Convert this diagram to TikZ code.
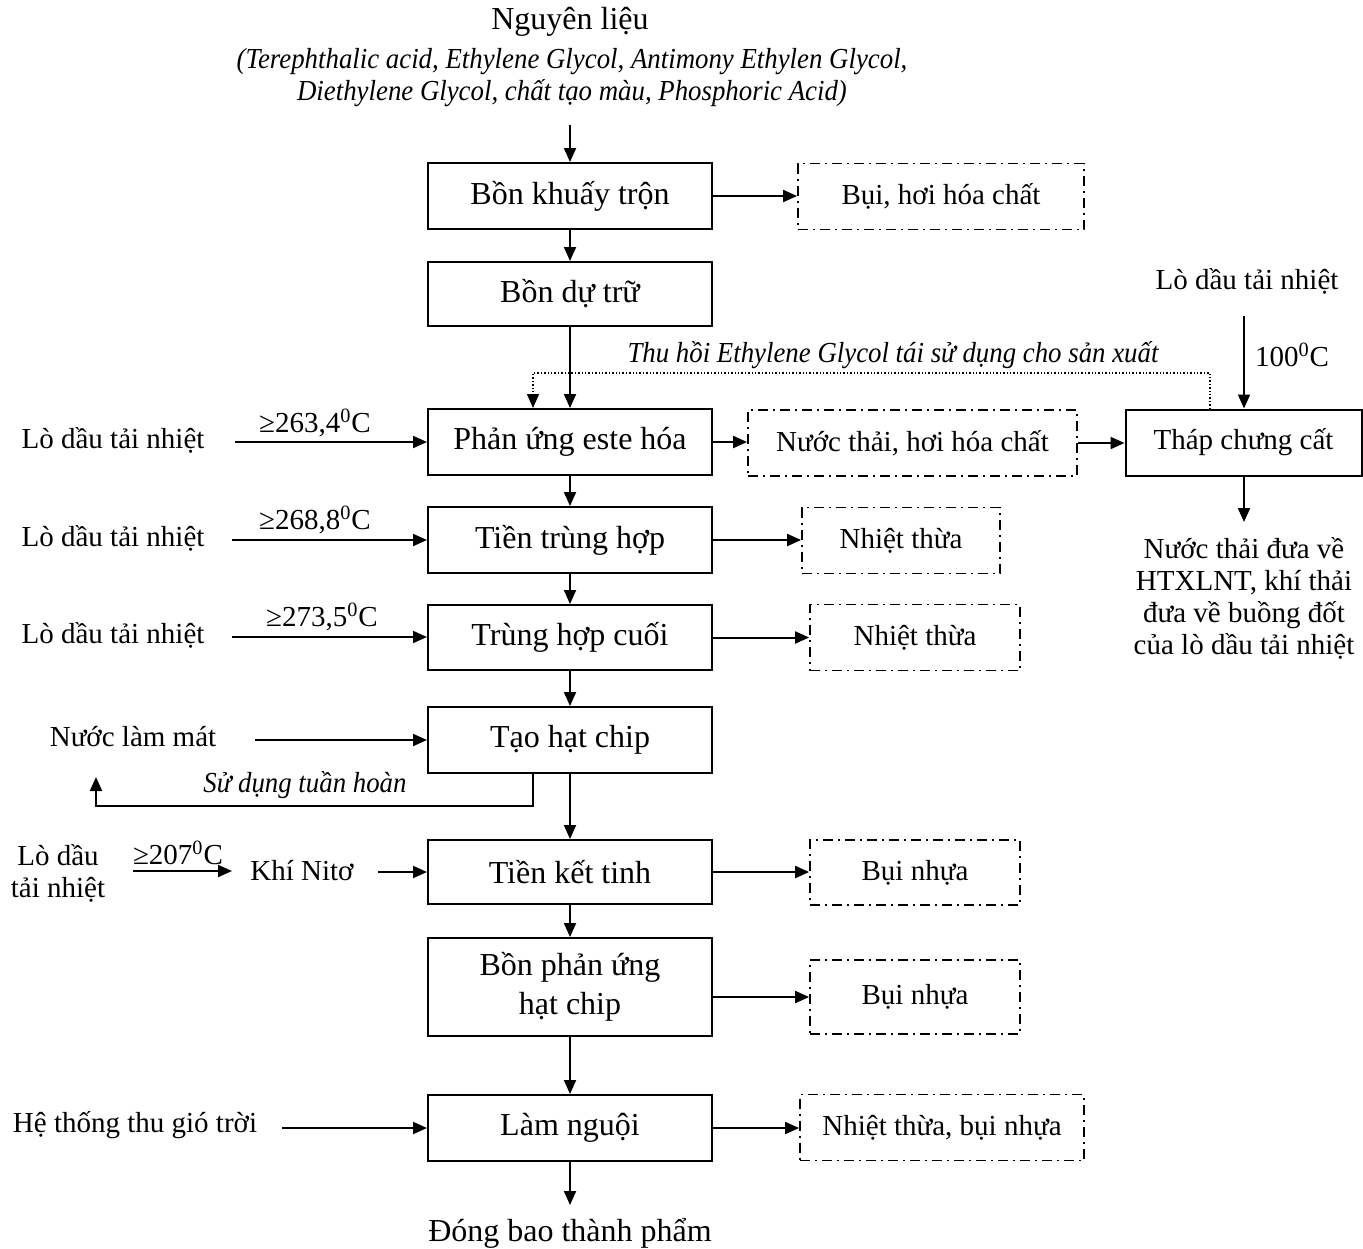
\documentclass[tikz,border=0pt]{standalone}
\usepackage{fontspec}
\setmainfont{Liberation Serif}[ItalicFeatures={FakeStretch=0.925}]
\usetikzlibrary{arrows.meta}
\begin{document}
\begin{tikzpicture}[x=0.5pt,y=-0.5pt,
  every node/.style={font=\fontsize{14.5}{16}\selectfont, inner sep=0pt},
  big/.style={font=\fontsize{16}{19.5}\selectfont},
  itl/.style={font=\fontsize{14.5}{16}\selectfont\itshape},
  proc/.style={draw, line width=1pt, minimum width=142pt, minimum height=33pt, align=center, big},
  waste/.style={draw, line width=0.9pt, dash pattern=on 5pt off 2.5pt on 1pt off 2.5pt,
                minimum height=33pt, align=center},
  arr/.style={line width=1pt, -{Triangle[length=7pt,width=6pt]}},
  fback/.style={line width=0.7pt, densely dotted, -{Triangle[length=7pt,width=6pt]}}
]
\useasboundingbox (0,0) rectangle (1363,1248);

% raw materials
\node[big] (src) at (570,22) {Nguyên liệu};
\node[itl] (src1) at (572,62) {(Terephthalic acid, Ethylene Glycol, Antimony Ethylen Glycol,};
\node[itl] (src2) at (572,93) {Diethylene Glycol, chất tạo màu, Phosphoric Acid)};
\coordinate (s0) at (570,125);

% main process line
\node[proc] (bk)  at (570,196) {Bồn khuấy trộn};
\node[proc, minimum height=32pt] (bd) at (570,294) {Bồn dự trữ};
\node[proc] (pu)  at (570,442) {Phản ứng este hóa};
\node[proc] (tt)  at (570,540) {Tiền trùng hợp};
\node[proc, minimum height=32.5pt] (th) at (570,637.5) {Trùng hợp cuối};
\node[proc] (hat) at (570,740) {Tạo hạt chip};
\node[proc, minimum height=32pt] (kt) at (570,872) {Tiền kết tinh};
\node[proc, minimum height=49pt] (bp) at (570,987) {Bồn phản ứng\\hạt chip};
\node[proc] (ln)  at (570,1128) {Làm nguội};
\node[big] (out) at (570,1233) {Đóng bao thành phẩm};
\coordinate (e0) at (570,1205);

% emissions
\node[waste, minimum width=143pt] (w1) at (941,196.5) {Bụi, hơi hóa chất};
\node[waste, minimum width=164.5pt] (w2) at (912.5,443) {Nước thải, hơi hóa chất};
\node[waste, minimum width=99pt] (w3) at (901,540.5) {Nhiệt thừa};
\node[waste, minimum width=105pt] (w4) at (915,637.5) {Nhiệt thừa};
\node[waste, minimum width=105pt, minimum height=32.5pt] (w5) at (915,872.5) {Bụi nhựa};
\node[waste, minimum width=105pt, minimum height=37pt] (w6) at (915,997) {Bụi nhựa};
\node[waste, minimum width=142pt] (w7) at (942,1127.5) {Nhiệt thừa, bụi nhựa};

% distillation column
\node[draw, line width=1pt, minimum width=118pt, minimum height=33pt] (tcc) at (1243.5,442.5) {Tháp chưng cất};
\node (rl) at (1247,281) {Lò dầu tải nhiệt};
\coordinate (rl0) at (1244,316);
\node (t100) at (1292,355) {100\textsuperscript{0}C};
\coordinate (rd) at (1244,522);
\node[align=center] (rt) at (1244,598) {Nước thải đưa về\\HTXLNT, khí thải\\đưa về buồng đốt\\của lò dầu tải nhiệt};

% recovered glycol loop
\coordinate (fb0) at (1210,409);
\coordinate (fb1) at (533,373);
\node[itl] (fbl) at (893,355) {Thu hồi Ethylene Glycol tái sử dụng cho sản xuất};

% left inputs
\node (l1) at (113,440) {Lò dầu tải nhiệt};
\coordinate (a1) at (235,442);
\node (t1) at (315,423) {≥263,4\textsuperscript{0}C};
\node (l2) at (113,538) {Lò dầu tải nhiệt};
\coordinate (a2) at (232,540);
\node (t2) at (315,520) {≥268,8\textsuperscript{0}C};
\node (l3) at (113,635) {Lò dầu tải nhiệt};
\coordinate (a3) at (232,637);
\node (t3) at (322,617) {≥273,5\textsuperscript{0}C};
\node (l4) at (133,737) {Nước làm mát};
\coordinate (a4) at (255,740);
\coordinate (r0) at (533,773);
\coordinate (r1) at (96,777);
\node[itl] (rl4) at (305,785) {Sử dụng tuần hoàn};
\node[align=center] (l5) at (58,873) {Lò dầu\\tải nhiệt};
\coordinate (a5) at (133,871);
\coordinate (a5e) at (232,871);
\node (t5) at (178,853) {≥207\textsuperscript{0}C};
\node (n2) at (302,871) {Khí Nitơ};
\coordinate (a6) at (378,872);
\node (l6) at (135,1125) {Hệ thống thu gió trời};
\coordinate (a7) at (282,1128);

% connectors: main line
\draw[arr] (s0) -- (bk.north);
\draw[arr] (bk) -- (bd);
\draw[arr] (bd) -- (pu);
\draw[arr] (pu) -- (tt);
\draw[arr] (tt) -- (th);
\draw[arr] (th) -- (hat);
\draw[arr] (hat) -- (kt);
\draw[arr] (kt) -- (bp);
\draw[arr] (bp) -- (ln);
\draw[arr] (ln.south) -- (e0);

% connectors: emissions
\draw[arr] (bk.east) -- (bk.east -| w1.west);
\draw[arr] (pu.east) -- (pu.east -| w2.west);
\draw[arr] (w2.east) -- (w2.east -| tcc.west);
\draw[arr] (tt.east) -- (tt.east -| w3.west);
\draw[arr] (th.east) -- (th.east -| w4.west);
\draw[arr] (kt.east) -- (kt.east -| w5.west);
\draw[arr] (bp.east |- w6.west) -- (w6.west);
\draw[arr] (ln.east) -- (ln.east -| w7.west);

% connectors: distillation
\draw[arr] (rl0) -- (rl0 |- tcc.north);
\draw[arr] (tcc.south -| rd) -- (rd);
\draw[fback] (fb0) |- (fb1) -- (fb1 |- pu.north);

% connectors: left inputs
\draw[arr] (a1) -- (a1 -| pu.west);
\draw[arr] (a2) -- (a2 -| tt.west);
\draw[arr] (a3) -- (a3 -| th.west);
\draw[arr] (a4) -- (a4 -| hat.west);
\draw[arr] (r0) -- ++(0,33) -| (r1);
\draw[arr] (a5) -- (a5e);
\draw[arr] (a6) -- (a6 -| kt.west);
\draw[arr] (a7) -- (a7 -| ln.west);
\end{tikzpicture}
\end{document}
